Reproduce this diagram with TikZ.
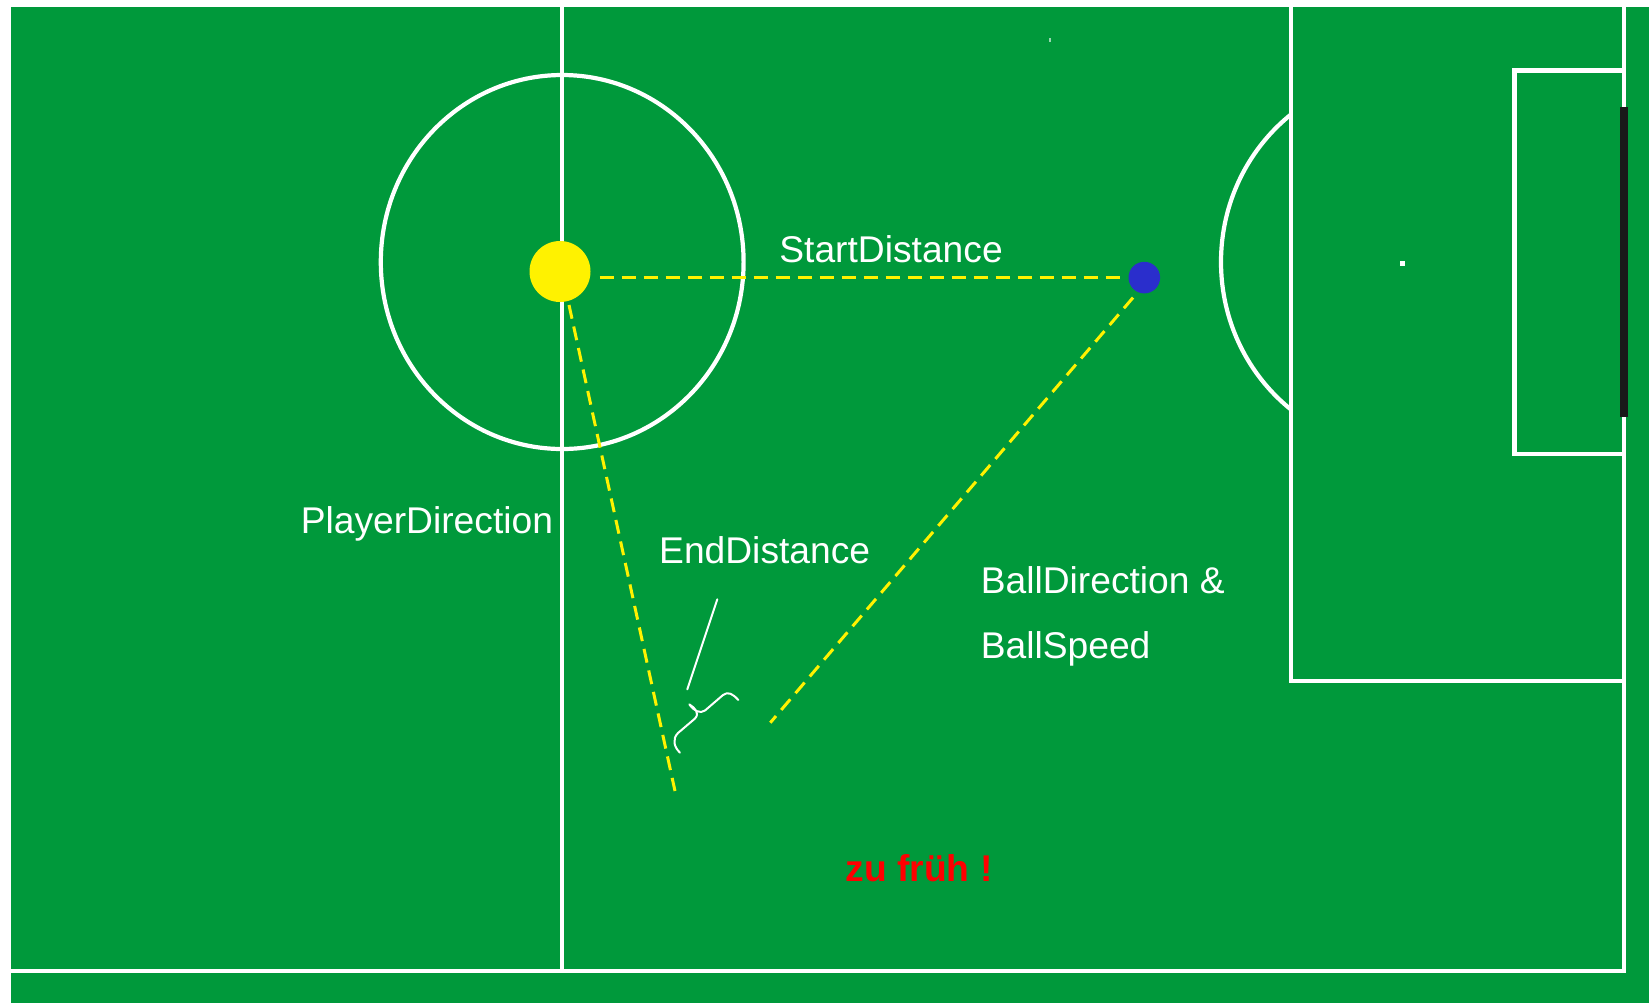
\documentclass[tikz,border=0pt]{standalone}
\usepackage{fontspec}
\setmainfont{Liberation Sans}
\definecolor{pitch}{RGB}{0,153,59}
\definecolor{ballblue}{RGB}{42,46,204}
\definecolor{goalblack}{RGB}{25,25,25}
\begin{document}
\begin{tikzpicture}[x=0.5pt,y=-0.5pt,
  pline/.style={white, line width=2.1pt},
  ydash/.style={yellow, line width=1.5pt, dash pattern=on 7pt off 4pt},
  thinw/.style={white, line width=1pt, line cap=round, line join=round},
  lbl/.style={white, font=\fontsize{18.6pt}{22pt}\selectfont, inner sep=0pt, anchor=base west},
]
\useasboundingbox (0,0) rectangle (1649,1003);
\fill[white] (0,0) rectangle (1649,1003);
\fill[pitch] (10.5,7) rectangle (1649,1003);
% pitch markings
\draw[pline] (561.6,7) -- (561.6,971);
\draw[pline] (10.5,971) -- (1626,971);
\draw[pline] (1624,7) -- (1624,971);
\draw[pline] (562.2,262) ellipse [x radius=90.7pt, y radius=93.5pt];
\begin{scope}
  \clip (0,0) rectangle (1291,1003);
  \draw[pline] (1402.5,262) ellipse [x radius=90.75pt, y radius=93.5pt];
\end{scope}
\draw[pline] (1291,7) -- (1291,681) -- (1624,681);
\draw[pline] (1624,70.5) -- (1514.5,70.5) -- (1514.5,453.7) -- (1624,453.7);
\fill[white] (1400,260.5) rectangle (1405,265.5);
\fill[goalblack] (1619.5,106.7) rectangle (1627.7,417.3);
\fill[white!60!pitch] (1049,38) rectangle (1051,42);
% balls
\node[circle, fill=yellow, minimum size=30.5pt, inner sep=0pt] (player) at (560,271.5) {};
\node[circle, fill=ballblue, minimum size=15.8pt, inner sep=0pt] (ball) at (1144.3,277.6) {};
% dashed lines
\coordinate (sd1) at (599.5,277.3);
\coordinate (sd2) at (1120,277.3);
\coordinate (pd1) at (569,305);
\coordinate (pd2) at (675,791);
\coordinate (bd1) at (1133,297.6);
\coordinate (bd2) at (770.3,722.7);
\draw[ydash] (sd1) -- (sd2);
\draw[ydash] (pd1) -- (pd2);
\draw[ydash] (bd1) -- (bd2);
% end distance pointer and brace
\coordinate (ed1) at (717.3,599.3);
\coordinate (ed2) at (687.3,689.3);
\draw[thinw] (ed1) -- (ed2);
\coordinate (br1) at (680,752.7);
\coordinate (br2) at (738.3,700);
\coordinate (brtip) at (689.3,704.3);
\draw[thinw] (br2) .. controls (733,694) and (728,691) .. (723,695)
  -- (705,710.5) .. controls (700,714) and (694,711) .. (brtip)
  .. controls (695,708) and (700,713) .. (695,718.5)
  -- (678,733) .. controls (672,739) and (674,747) .. (br1);
% labels
\node[lbl] (startlbl) at (779,262.7) {StartDistance};
\node[lbl] (playerlbl) at (300.4,533.3) {PlayerDirection};
\node[lbl] (endlbl) at (658.8,563.3) {EndDistance};
\node[lbl] (balllbl1) at (980.4,593.3) {BallDirection \&};
\node[lbl] (balllbl2) at (980.4,658.3) {BallSpeed};
\node[lbl, text=red, font=\fontsize{18.6pt}{22pt}\selectfont\bfseries] (early) at (845.3,881.7) {zu früh !};
\end{tikzpicture}
\end{document}
